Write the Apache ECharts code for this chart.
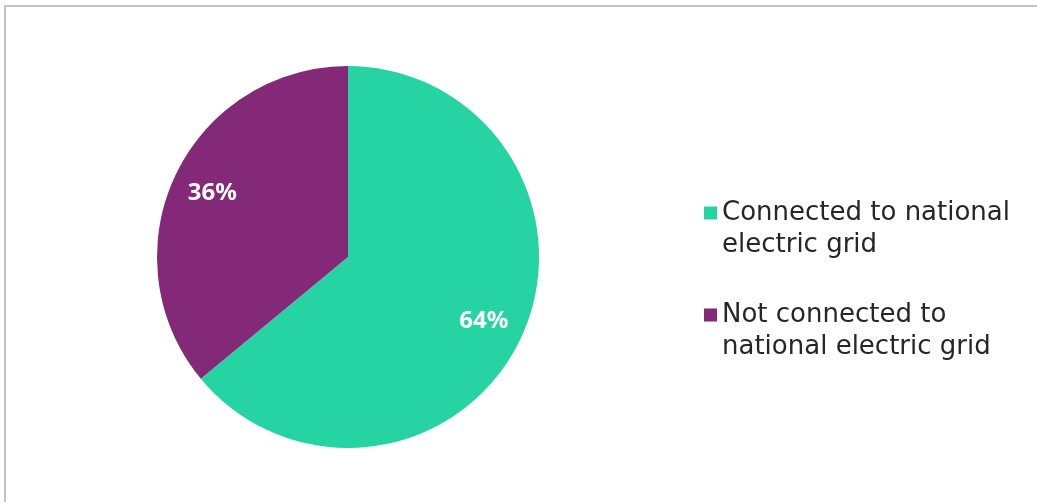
<!DOCTYPE html>
<html>
<head>
<meta charset="utf-8">
<script src="https://cdn.jsdelivr.net/npm/echarts@6/dist/echarts.min.js"></script>
<style>
  html, body { margin: 0; padding: 0; background: #fff; }
  #frame {
    position: absolute; left: 4px; top: 5px; width: 1040px; height: 500px;
    border-top: 2px solid #c4c4c4; border-left: 2px solid #c4c4c4;
  }
  #chart { position: absolute; left: 0; top: 0; width: 1037px; height: 502px; }
</style>
</head>
<body>
<div id="frame"></div>
<div id="chart"></div>
<script>
// 类别与数值
var categories = ['Connected to national electric grid', 'Not connected to national electric grid'];
var values = [64, 36];
var colors = ['#26D3A3', '#842878'];
// 图例换行（首行留空，使图标与第一行对齐）
var legendLines = {
  'Connected to national electric grid': ' \nConnected to national\nelectric grid',
  'Not connected to national electric grid': ' \nNot connected to\nnational electric grid'
};

var chart = echarts.init(document.getElementById('chart'));

var pieData = categories.map(function (name, i) {
  return { name: name, value: values[i], itemStyle: { color: colors[i] } };
});

var option = {
  animation: false,
  legend: {
    orient: 'vertical',
    left: 704,
    top: 165,
    padding: 0,
    itemWidth: 13,
    itemHeight: 13,
    itemGap: 6,
    icon: 'rect',
    data: categories,
    formatter: function (name) { return legendLines[name]; },
    textStyle: {
      fontFamily: 'DejaVu Sans',
      fontSize: 26,
      lineHeight: 32,
      color: '#262626'
    }
  },
  series: [
    {
      name: 'grid',
      type: 'pie',
      center: [348, 257],
      radius: 191,
      startAngle: 90,
      clockwise: true,
      label: { show: false },
      labelLine: { show: false },
      emphasis: { disabled: true },
      data: pieData
    },
    {
      // 标签层（透明），用于把百分比放在约 0.77 半径处
      name: 'labels',
      type: 'pie',
      center: [348, 257],
      radius: [108, 186],
      startAngle: 90,
      clockwise: true,
      silent: true,
      legendHoverLink: false,
      itemStyle: { color: 'rgba(0,0,0,0)' },
      label: {
        show: true,
        position: 'inside',
        formatter: '{c}%',
        color: '#fff',
        fontFamily: 'Noto Sans',
        fontWeight: 'bold',
        fontSize: 24
      },
      labelLine: { show: false },
      emphasis: { disabled: true },
      data: categories.map(function (name, i) {
        return { name: name, value: values[i] };
      })
    }
  ]
};

chart.setOption(option);
</script>
</body>
</html>
